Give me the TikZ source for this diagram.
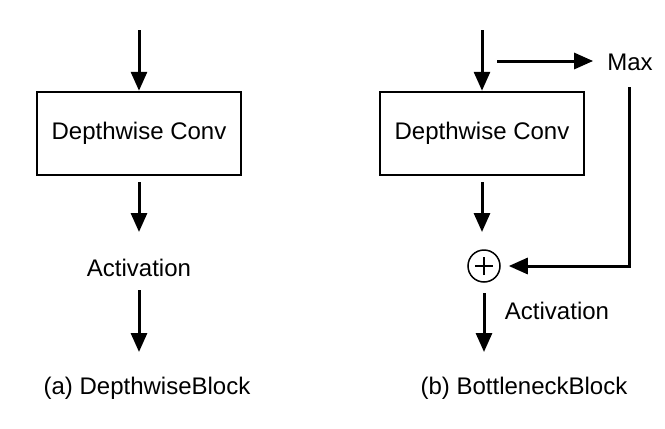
\documentclass[tikz,border=0pt]{standalone}
\usepackage{fontspec}
\setmainfont{Liberation Sans}
\usetikzlibrary{arrows.meta}
\begin{document}
\begin{tikzpicture}[x=1pt,y=-1pt,
  every node/.style={font=\fontsize{24}{28}\selectfont, inner sep=0pt},
  convbox/.style={draw, line width=2.5pt, minimum width=204pt, minimum height=83pt},
  flow/.style={line width=3pt, -{Triangle[length=19pt,width=16pt]}},
  sumnode/.style={draw, circle, line width=1.5pt, minimum size=32pt}
]
\useasboundingbox (0,0) rectangle (665,429);
% (a)
\coordinate (ain) at (139,30);
\node[convbox] (aconv) at (139,133.5) {Depthwise Conv};
\coordinate (aout1) at (139,182);
\coordinate (aend1) at (139,232);
\node (aact) at (139,268) {Activation};
\coordinate (aout2) at (139,290);
\coordinate (aend2) at (139,352);
\node (acap) at (147,388) {(a) DepthwiseBlock};
\draw[flow] (ain) -- (aconv.north);
\draw[flow] (aout1) -- (aend1);
\draw[flow] (aout2) -- (aend2);
% (b)
\coordinate (bin) at (482,30);
\node[convbox] (bconv) at (482,133.5) {Depthwise Conv};
\coordinate (bout1) at (482,182);
\coordinate (bend1) at (482,232);
\node[sumnode] (plus) at (484,266) {};
\draw[line width=1.5pt] ([xshift=-9pt]plus.center) -- ([xshift=9pt]plus.center)
  ([yshift=-9pt]plus.center) -- ([yshift=9pt]plus.center);
\coordinate (bout2) at (484,293);
\coordinate (bend2) at (484,352);
\node (bact) at (557,311) {Activation};
\node (max) at (630,62) {Max};
\coordinate (maxstart) at (497,61);
\coordinate (maxdown) at (629,87);
\coordinate (corner) at (629,266);
\node (bcap) at (524,388) {(b) BottleneckBlock};
\draw[flow] (bin) -- (bconv.north);
\draw[flow] (bout1) -- (bend1);
\draw[flow] (maxstart) -- ([xshift=-14pt]max.west |- maxstart);
\draw[flow] (maxdown) -- (corner) -- ([xshift=8pt]plus.east);
\draw[flow] (bout2) -- (bend2);
\end{tikzpicture}
\end{document}
